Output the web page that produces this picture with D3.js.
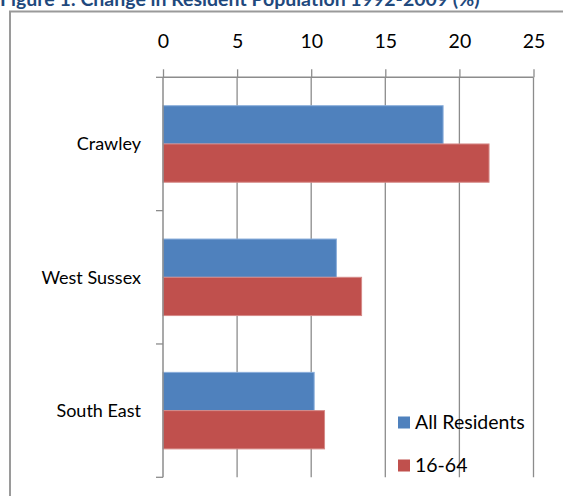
<!DOCTYPE html>
<html><head><meta charset="utf-8">
<script src="https://cdn.jsdelivr.net/npm/d3@7/dist/d3.min.js"></script>
<style>html,body{margin:0;padding:0;background:#fff;overflow:hidden}</style>
</head><body>
<svg id="chart" width="563" height="496"></svg>
<script>
const categories = ["Crawley", "West Sussex", "South East"];
const seriesNames = ["All Residents", "16-64"];
const allResidents = [18.9, 11.7, 10.2];
const age16to64 = [22.0, 13.4, 10.9];
const xTicks = [0, 5, 10, 15, 20, 25];
const colors = ["#4F81BD", "#C0504D"];
const title = "Figure 1: Change in Resident Population 1992-2009 (%)";

(function () {
const svg = d3.select("#chart");
const font = "Lato, 'Open Sans', sans-serif";

// title (clipped at top like the reference)
svg.append("text").attr("x", 0).attr("y", 6)
  .attr("font-family", font).attr("font-weight", "bold").attr("font-size", 19.5)
  .attr("fill", "#1F497D").text(title);

// frame
svg.append("rect").attr("x", 10).attr("y", 11.5).attr("width", 600).attr("height", 600)
  .attr("fill", "none").attr("stroke", "#9a9a9a").attr("stroke-width", 2);

const pL = 163, pR = 533.5, pT = 77.3, pB = 477.3;
const x = d3.scaleLinear().domain([0, 25]).range([pL, pR]);
const y = d3.scaleBand().domain(categories).range([pT, pB]).paddingInner(0.426).paddingOuter(0.213);
const ySub = d3.scaleBand().domain(seriesNames).range([0, y.bandwidth()]);

// gridlines
svg.append("g").selectAll("line").data(xTicks.slice(1)).join("line")
  .attr("x1", d => x(d)).attr("x2", d => x(d)).attr("y1", pT).attr("y2", pB)
  .attr("stroke", "#8c8c8c").attr("stroke-width", 1.3);

// bars
const series = [allResidents, age16to64];
series.forEach((vals, si) => {
  svg.append("g").selectAll("rect").data(categories).join("rect")
    .attr("x", x(0))
    .attr("y", c => y(c) + ySub(seriesNames[si]))
    .attr("width", (c, i) => x(vals[i]) - x(0))
    .attr("height", ySub.bandwidth())
    .attr("fill", colors[si])
    .attr("stroke", si === 0 ? "#8aaedb" : "#d68a88").attr("stroke-width", 1);
});

// top axis
const xAxis = d3.axisTop(x).tickValues(xTicks).tickSize(8).tickPadding(21).tickFormat(d3.format("d"));
const gx = svg.append("g").attr("transform", `translate(0,${pT})`).call(xAxis);
gx.select(".domain").attr("stroke", "#8c8c8c").attr("stroke-width", 1.5).attr("d", `M${pL},0H${pR}`);
gx.selectAll(".tick line").attr("stroke", "#8c8c8c").attr("stroke-width", 1.3);
gx.selectAll(".tick text").attr("font-family", font).attr("font-size", 19.5).attr("fill", "#000");

// left axis (category) with boundary ticks
const gy = svg.append("g");
gy.append("line").attr("x1", pL).attr("x2", pL).attr("y1", pT).attr("y2", pB)
  .attr("stroke", "#8c8c8c").attr("stroke-width", 1.5);
const bounds = categories.map(c => y(c) - y.step() * y.paddingInner() / 2).concat([pB]);
gy.selectAll("line.b").data(bounds).join("line").attr("class", "b")
  .attr("x1", pL - 7).attr("x2", pL).attr("y1", d => d).attr("y2", d => d)
  .attr("stroke", "#8c8c8c").attr("stroke-width", 1.3);
gy.selectAll("text").data(categories).join("text")
  .attr("x", 141).attr("y", c => y(c) + y.bandwidth() / 2)
  .attr("dy", "0.35em").attr("text-anchor", "end")
  .attr("font-family", font).attr("font-size", 18).attr("fill", "#000").text(c => c);

// legend
const lg = svg.append("g");
seriesNames.forEach((n, i) => {
  const ly = 422.5 + i * 43;
  lg.append("rect").attr("x", 398).attr("y", ly - 6).attr("width", 12).attr("height", 12).attr("fill", colors[i]);
  lg.append("text").attr("x", 415).attr("y", ly).attr("dy", "0.35em")
    .attr("font-family", font).attr("font-size", 19.5).attr("fill", "#000").text(n);
});
})();
</script>
</body></html>
